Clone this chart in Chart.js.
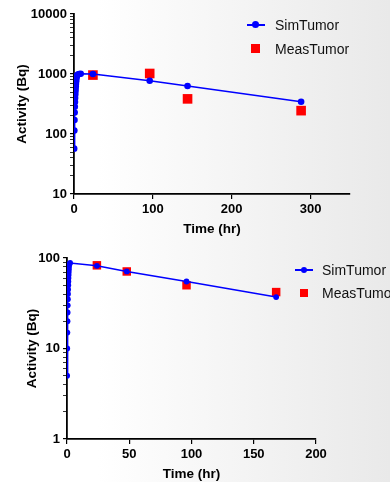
<!DOCTYPE html>
<html>
<head>
<meta charset="utf-8">
<script src="https://cdn.jsdelivr.net/npm/chart.js@4.4.1/dist/chart.umd.min.js"></script>
<style>
  html, body { margin: 0; padding: 0; }
  body {
    width: 390px; height: 482px; overflow: hidden; position: relative;
    background: linear-gradient(to right, #ffffff 0%, #ffffff 25%, #e9e9e9 100%);
    font-family: "Liberation Sans", Arial, sans-serif;
  }
  .box { position: absolute; left: 0; width: 390px; }
  .leg { position: absolute; font-size: 14px; color: #111; white-space: nowrap; line-height: 16px; }
  .leg .line { position: absolute; height: 2px; background: #0000ff; }
  .leg .dot { position: absolute; width: 7px; height: 7px; border-radius: 50%; background: #0000ff; }
  .leg .sq { position: absolute; background: #ff0000; }
</style>
</head>
<body>
<div class="box" style="top:0;height:240px"><canvas id="chartTop" width="390" height="240"></canvas></div>
<div class="box" style="top:240px;height:242px"><canvas id="chartBottom" width="390" height="242"></canvas></div>

<div class="leg" style="left:247px;top:17px;width:143px;height:16px">
  <span class="line" style="left:0;top:7px;width:18px"></span>
  <span class="dot" style="left:5px;top:4px"></span>
  <span style="position:absolute;left:28px;top:0">SimTumor</span>
</div>
<div class="leg" style="left:247px;top:41px;width:143px;height:16px">
  <span class="sq" style="left:4px;top:3px;width:9px;height:9px"></span>
  <span style="position:absolute;left:28px;top:0">MeasTumor</span>
</div>
<div class="leg" style="left:295px;top:262px;width:95px;height:16px;overflow:hidden">
  <span class="line" style="left:0;top:7px;width:18px"></span>
  <span class="dot" style="left:6px;top:5px;width:6px;height:6px"></span>
  <span style="position:absolute;left:27px;top:0">SimTumor</span>
</div>
<div class="leg" style="left:295px;top:285px;width:95px;height:16px;overflow:hidden">
  <span class="sq" style="left:5px;top:4px;width:8px;height:8px"></span>
  <span style="position:absolute;left:27px;top:0">MeasTumor</span>
</div>

<script>
// top panel
const simTimeA = [0.2, 0.4, 0.6, 0.8, 1.0, 1.2, 1.4, 1.6, 1.8, 2.0, 2.2, 2.4, 2.6, 2.8, 3.0, 3.4, 4.0, 5.0, 6.5, 8.5, 24, 96, 144, 288];
const simActA = [57, 114, 171, 228, 285, 342, 399, 456, 513, 570, 627, 684, 741, 798, 855, 905, 950, 980, 1000, 1010, 1000, 770, 630, 345];
const measTimeA = [24, 96, 144, 288];
const measActA = [960, 1020, 385, 245];
const xTicksA = [0, 100, 200, 300];
const yTicksA = [10, 100, 1000, 10000];

// bottom panel
const simTimeB = [0.1, 0.2, 0.3, 0.4, 0.5, 0.6, 0.7, 0.8, 0.9, 1.0, 1.1, 1.2, 1.3, 1.4, 1.5, 1.6, 1.7, 2.5, 24, 48, 96, 168];
const simActB = [5, 10, 15, 20, 25, 30, 35, 40, 45, 50, 55, 60, 65, 70, 75, 80, 85, 88, 82, 71, 55, 37];
const measTimeB = [24, 48, 96, 168];
const measActB = [83, 71, 50, 42];
const xTicksB = [0, 50, 100, 150, 200];
const yTicksB = [1, 10, 100];

Chart.defaults.font.family = "'Liberation Sans', Arial, sans-serif";
Chart.defaults.color = "#000";

const pts = (xs, ys) => xs.map((x, i) => ({ x: x, y: ys[i] }));

function makeChart(id, o) {
  // log ticks: labelled decades plus unlabelled minor marks
  const logTicks = [];
  o.yTicks.forEach((d, i) => {
    if (i === o.yTicks.length - 1) { logTicks.push(d); return; }
    for (let k = 1; k < 10; k++) logTicks.push(d * k);
  });
  return new Chart(document.getElementById(id), {
    type: "scatter",
    data: {
      datasets: [
        {
          label: "SimTumor",
          data: pts(o.simT, o.simY),
          showLine: true,
          borderColor: "#0000ff",
          borderWidth: 1.5,
          backgroundColor: "#0000ff",
          pointBackgroundColor: "#0000ff",
          pointBorderWidth: 0,
          pointRadius: o.dotR
        },
        {
          label: "MeasTumor",
          data: pts(o.measT, o.measY),
          showLine: false,
          pointStyle: "rect",
          pointBackgroundColor: "#ff0000",
          backgroundColor: "#ff0000",
          pointBorderWidth: 0,
          pointRadius: o.sqR
        }
      ]
    },
    options: {
      responsive: false,
      animation: false,
      layout: { padding: { top: o.padTop, right: o.padRight, left: 0, bottom: 0 } },
      plugins: { legend: { display: false }, tooltip: { enabled: false } },
      scales: {
        x: {
          type: "linear",
          min: 0,
          max: o.xMax,
          afterBuildTicks: s => { s.ticks = o.xTicks.map(v => ({ value: v })); },
          afterFit: s => { s.height = o.xH; },
          ticks: { font: { size: 13, weight: "bold" }, padding: 3, maxRotation: 0 },
          grid: { display: true, drawOnChartArea: false, drawTicks: true, tickLength: 5, color: "#000", lineWidth: 1.2 },
          border: { display: true, color: "#000", width: 1.8 },
          title: { display: true, text: "Time (hr)", font: { size: 13.5, weight: "bold" }, padding: { top: 0, bottom: o.xTitlePad } }
        },
        y: {
          type: "logarithmic",
          min: o.yTicks[0],
          max: o.yTicks[o.yTicks.length - 1],
          afterBuildTicks: s => { s.ticks = logTicks.map(v => ({ value: v })); },
          afterFit: s => { s.width = o.yW; },
          ticks: {
            font: { size: 13, weight: "bold" },
            padding: 3,
            autoSkip: false,
            callback: v => (o.yTicks.includes(v) ? String(v) : "")
          },
          grid: {
            display: true, drawOnChartArea: false, drawTicks: true, tickLength: 4,
            color: "#000",
            lineWidth: c => (o.yTicks.includes(c.tick && c.tick.value) ? 1.2 : 0.8)
          },
          border: { display: true, color: "#000", width: 1.8 },
          title: { display: true, text: "Activity (Bq)", font: { size: 13.5, weight: "bold" }, padding: { top: o.yTitlePad, bottom: 0 } }
        }
      }
    }
  });
}

makeChart("chartTop", {
  simT: simTimeA, simY: simActA, measT: measTimeA, measY: measActA,
  xTicks: xTicksA, yTicks: yTicksA, xMax: 350,
  padTop: 14, padRight: 40, xH: 46, yW: 74, xTitlePad: 3, yTitlePad: 14,
  dotR: 3.3, sqR: 6.8
});

makeChart("chartBottom", {
  simT: simTimeB, simY: simActB, measT: measTimeB, measY: measActB,
  xTicks: xTicksB, yTicks: yTicksB, xMax: 200,
  padTop: 18, padRight: 74, xH: 43, yW: 67, xTitlePad: 0, yTitlePad: 24,
  dotR: 2.9, sqR: 6
});
</script>
</body>
</html>
